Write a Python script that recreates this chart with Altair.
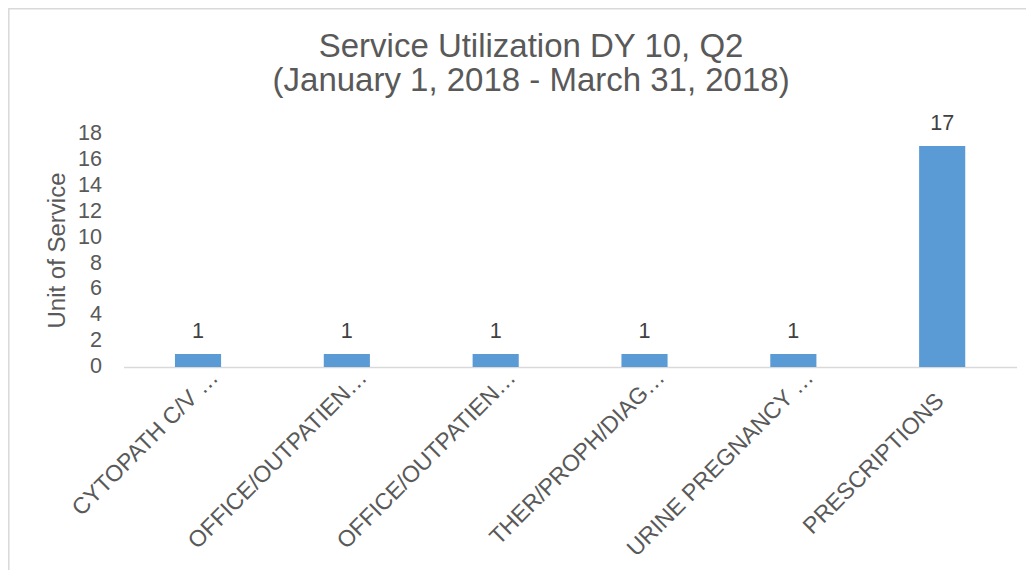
import altair as alt
import pandas as pd

keys = ["0", "1", "2", "3", "4", "5"]
labels = [
    "CYTOPATH C/V …",
    "OFFICE/OUTPATIEN…",
    "OFFICE/OUTPATIEN…",
    "THER/PROPH/DIAG…",
    "URINE PREGNANCY …",
    "PRESCRIPTIONS",
]
values = [1, 1, 1, 1, 1, 17]
y_ticks = [0, 2, 4, 6, 8, 10, 12, 14, 16, 18]

df = pd.DataFrame({"key": keys, "label": labels, "value": values})

FONT = "Liberation Sans"
GREY = "#595959"
label_expr = "[" + ",".join("'" + l + "'" for l in labels) + "][toNumber(datum.value)]"
full_test = "datum.value == '5'"

x_enc = alt.X(
    "key:N",
    sort=keys,
    scale=alt.Scale(paddingInner=0.69, paddingOuter=0.345),
    axis=alt.Axis(
        title=None,
        labelAngle=-45,
        labelAlign="right",
        labelBaseline="middle",
        labelExpr=label_expr,
        labelFont=FONT,
        labelFontSize=23,
        labelColor=GREY,
        labelLimit=0,
        labelPadding={"condition": {"test": full_test, "value": 30}, "value": 6.5},
        labelOffset={"condition": {"test": full_test, "value": -2}, "value": 16.5},
        labelOverlap=False,
        ticks=False,
        domainColor="#d9d9d9",
        domainWidth=1.5,
        grid=False,
    ),
)
y_enc = alt.Y(
    "value:Q",
    scale=alt.Scale(domain=[0, 18], nice=False),
    axis=alt.Axis(
        title="Unit of Service",
        values=y_ticks,
        labelFont=FONT,
        labelFontSize=21.6,
        labelColor=GREY,
        labelPadding=22,
        labelOverlap=False,
        ticks=False,
        domain=False,
        grid=False,
        titleFont=FONT,
        titleFontSize=24,
        titleFontWeight="normal",
        titleColor=GREY,
        titlePadding=8,
    ),
)

bars = alt.Chart(df).mark_bar(color="#5b9bd5").encode(x=x_enc, y=y_enc)
text = alt.Chart(df).mark_text(
    font=FONT, fontSize=21.6, color="#404040", baseline="alphabetic", dy=-16
).encode(x=x_enc, y=y_enc, text="value:Q")

frame = alt.Chart(df.head(1)).mark_rect(
    fill=None, stroke="#d9d9d9", strokeWidth=1.5
).encode(
    x=alt.value(-114.8), y=alt.value(-124.2), x2=alt.value(1200), y2=alt.value(800)
)

chart = alt.layer(frame, bars, text).properties(
    width=893,
    height=234,
    autosize=alt.AutoSizeParams(type="none"),
    padding={"left": 115.6, "top": 125, "right": 9, "bottom": 203},
    title=alt.TitleParams(
        text=["Service Utilization DY 10, Q2", "(January 1, 2018 - March 31, 2018)"],
        font=FONT,
        fontSize=33,
        fontWeight="normal",
        color=GREY,
        anchor="middle",
        frame="group",
        dx=-39,
        dy=94,
        lineHeight=34,
    ),
).configure_view(stroke=None)

chart.save("out.html", embed_options={"renderer": "svg", "actions": False})
